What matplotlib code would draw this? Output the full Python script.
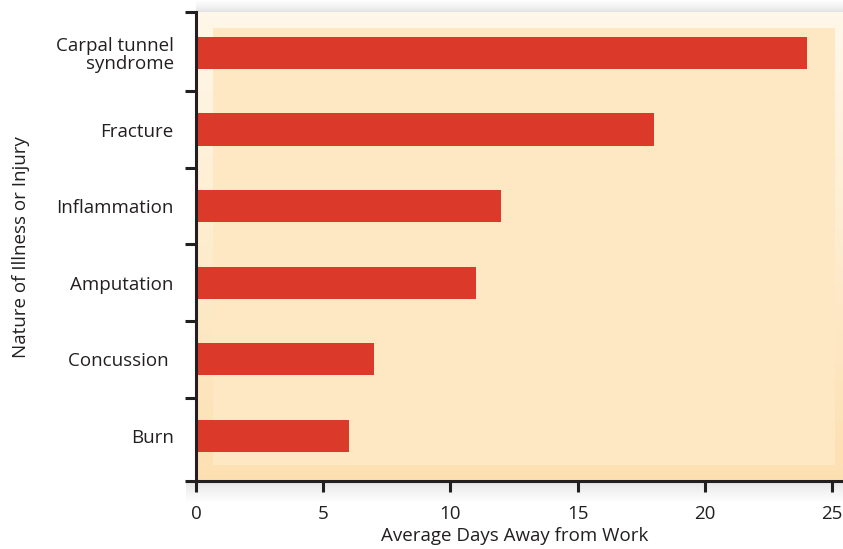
import numpy as np
import matplotlib
matplotlib.use("Agg")
import matplotlib.pyplot as plt
from matplotlib.patches import Rectangle
from matplotlib.colors import LinearSegmentedColormap

# --- data (bottom to top) ---
categories = ["Burn", "Concussion ", "Amputation", "Inflammation",
              "Fracture", "Carpal tunnel\nsyndrome"]
days = [6, 7, 11, 12, 18, 24]
x_ticks = [0, 5, 10, 15, 20, 25]

plt.rcParams["font.family"] = ["Open Sans", "DejaVu Sans"]
DARK = "#231F20"
BAR = "#DB3A2A"
FS = 13.5

fig = plt.figure(figsize=(8.43, 5.49), dpi=100)
W, H = 843, 549

# soft shadows above the plot and below the x axis
def shadow(x0, y0, w, h, flip=False):
    sax = fig.add_axes([x0 / W, 1 - (y0 + h) / H, w / W, h / H])
    g = np.linspace(0, 1, 50)[:, None]
    if flip:
        g = g[::-1]
    sax.imshow(g, aspect="auto", cmap="Greys", vmin=0, vmax=5,
               extent=[0, 1, 0, 1], interpolation="bilinear")
    sax.set_axis_off()

shadow(196, 0, 647, 12)
shadow(186, 481, 657, 22, flip=True)

ax = fig.add_axes([196 / W, 1 - 481 / H, 647 / W, 469 / H])
ax.set_zorder(3)
y = np.arange(len(categories))

ax.set_xlim(0, 25.43)
ax.set_ylim(-0.59, 5.535)

# bevelled background: light-to-warm gradient frame with a flat inner panel
frame = LinearSegmentedColormap.from_list("frame", ["#FDE0B2", "#FFF8EA"])
ax.imshow(np.linspace(0, 1, 100)[:, None][::-1], cmap=frame, aspect="auto",
          extent=[0, 1, 0, 1], transform=ax.transAxes, zorder=0,
          interpolation="bilinear")
ax.add_patch(Rectangle((0.026, 0.034), 0.962, 0.932, transform=ax.transAxes,
                       facecolor="#FEE8C4", edgecolor="none", zorder=0.5))

ax.barh(y, days, height=0.42, color=BAR, zorder=2)
ax.set_xlim(0, 25.43)
ax.set_ylim(-0.59, 5.535)

ax.set_xticks(x_ticks)
ax.set_xticklabels([str(t) for t in x_ticks])
ax.set_yticks(y)
ax.set_yticklabels(categories, fontsize=FS, color=DARK, linespacing=1.0)
ax.set_yticks(list(np.arange(0.5, 5, 1.0)) + [-0.59, 5.535], minor=True)

ax.tick_params(axis="y", which="major", length=0, pad=16)
ax.tick_params(axis="y", which="minor", length=8, width=2.2, color=DARK,
               direction="out")
ax.tick_params(axis="x", which="major", length=8, width=2.2, color=DARK,
               direction="out", labelsize=FS, labelcolor=DARK, pad=9)

for side in ["top", "right"]:
    ax.spines[side].set_visible(False)
for side in ["left", "bottom"]:
    ax.spines[side].set_color(DARK)
    ax.spines[side].set_linewidth(2.2)

ax.set_xlabel("Average Days Away from Work", fontsize=FS, color=DARK)
ax.xaxis.set_label_coords((515 - 196) / 647, -(527 - 481) / 469)
ax.set_ylabel("Nature of Illness or Injury", fontsize=FS, color=DARK)
ax.yaxis.set_label_coords(-(196 - 30) / 647, (481 - 247) / 469)

fig.savefig("out.png", dpi=100)
